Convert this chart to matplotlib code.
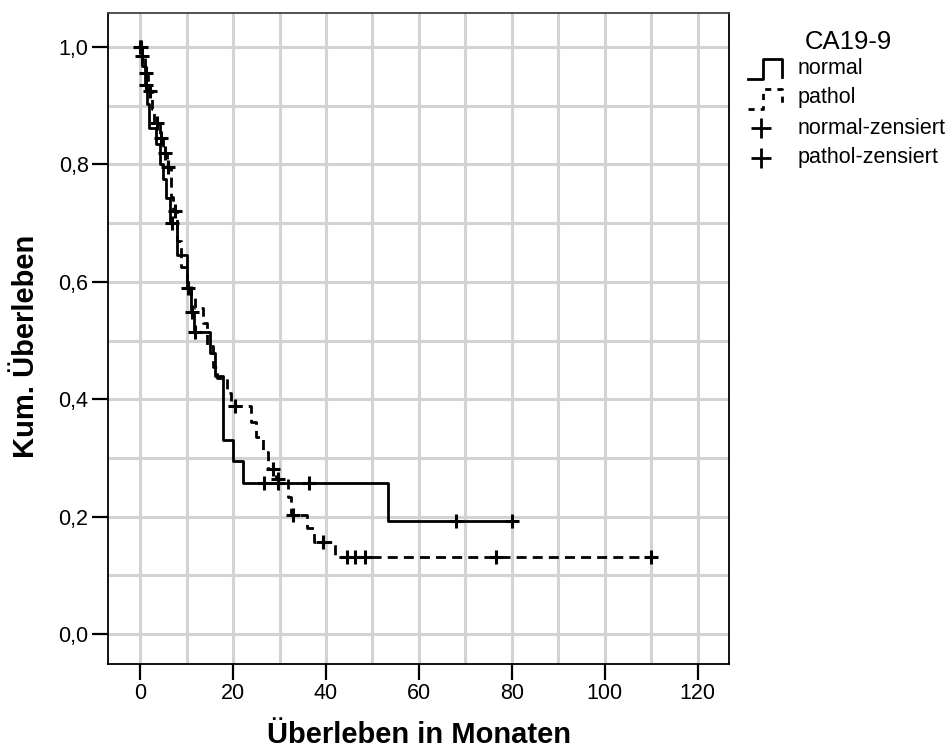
import numpy as np
import matplotlib
matplotlib.use("Agg")
import matplotlib.pyplot as plt

plt.rcParams['font.family'] = ['Liberation Sans', 'DejaVu Sans']

# Kaplan-Meier steps: time of each event step and survival after it
normal_t = [0.5, 1.0, 1.5, 2.0, 3.5, 4.3, 5.0, 5.5, 6.5, 8.0, 10.0, 10.9, 11.6,
            15.0, 16.1, 17.8, 20.0, 22.2, 53.4]
normal_s = [0.968, 0.935, 0.903, 0.862, 0.835, 0.80, 0.775, 0.743, 0.70, 0.645,
            0.59, 0.548, 0.514, 0.478, 0.44, 0.33, 0.294, 0.257, 0.193]
normal_end = 80.0
normal_cens = [0.2, 1.2, 6.9, 10.3, 11.1, 11.8, 26.7, 29.7, 36.3, 68.0, 80.0]

pathol_t = [0.5, 1.0, 1.7, 2.5, 3.0, 4.3, 5.0, 5.8, 6.6, 7.0, 8.0, 8.8, 10.0,
            11.0, 11.8, 13.5, 14.4, 15.7, 16.5, 18.7, 19.5, 23.9, 25.0, 26.5,
            27.5, 29.2, 31.8, 32.5, 36.0, 37.5, 42.0]
pathol_s = [0.985, 0.955, 0.925, 0.895, 0.87, 0.845, 0.82, 0.795, 0.745, 0.72,
            0.67, 0.625, 0.60, 0.575, 0.556, 0.53, 0.49, 0.455, 0.437, 0.41,
            0.388, 0.361, 0.335, 0.31, 0.282, 0.264, 0.233, 0.202, 0.18, 0.157,
            0.131]
pathol_end = 110.0
pathol_cens = [0.0, 0.5, 1.2, 2.2, 3.6, 4.5, 5.4, 6.1, 7.5, 20.4, 28.6, 29.7,
               33.0, 39.4, 44.5, 46.2, 48.4, 76.6, 110.0]

x_ticks = [0, 20, 40, 60, 80, 100, 120]
y_ticks = [0.0, 0.2, 0.4, 0.6, 0.8, 1.0]
y_ticklabels = ['0,0', '0,2', '0,4', '0,6', '0,8', '1,0']
legend_labels = ['normal', 'pathol', 'normal-zensiert', 'pathol-zensiert']


def step_xy(t, s, end):
    xs = [0.0] + list(t) + [end]
    ys = [1.0] + list(s) + [s[-1]]
    return np.array(xs), np.array(ys)


def surv_at(t, s, times):
    t = np.array(t)
    s = np.array(s)
    out = []
    for tm in times:
        idx = np.searchsorted(t, tm, side='right') - 1
        out.append(1.0 if idx < 0 else s[idx])
    return np.array(out)


fig = plt.figure(figsize=(9.48, 7.51), dpi=100)
ax = fig.add_axes([108 / 948, 87 / 751, 621 / 948, 651 / 751])

ax.set_xlim(-6.9, 126.7)
ax.set_ylim(-0.051, 1.058)

# light grid every 10 months / 0.1
for gx in np.arange(0, 130, 10):
    ax.axvline(gx, color='#d3d3d3', lw=2.2, zorder=0)
for gy in np.arange(0, 1.1, 0.1):
    ax.axhline(gy, color='#d3d3d3', lw=2.2, zorder=0)

nx, ny = step_xy(normal_t, normal_s, normal_end)
ax.step(nx, ny, where='post', color='black', lw=2.0, zorder=3)
px, py = step_xy(pathol_t, pathol_s, pathol_end)
ax.step(px, py, where='post', color='black', lw=2.0, dashes=(3.6, 2.2), zorder=3)

ax.plot(normal_cens, surv_at(normal_t, normal_s, normal_cens), ls='none',
        marker='+', ms=10, mew=2.2, color='black', zorder=4)
ax.plot(pathol_cens, surv_at(pathol_t, pathol_s, pathol_cens), ls='none',
        marker='+', ms=10, mew=2.2, color='black', zorder=4)

ax.set_xticks(x_ticks)
ax.set_xticklabels([str(v) for v in x_ticks])
ax.set_yticks(y_ticks)
ax.set_yticklabels(y_ticklabels)
ax.tick_params(direction='out', length=11.5, width=1.6, labelsize=15.5, pad=2.5)
for sp in ax.spines.values():
    sp.set_color('black')
    sp.set_linewidth(1.3)
ax.spines['top'].set_color('#444444')

ax.set_xlabel('Überleben in Monaten', fontsize=21, fontweight='bold')
ax.set_ylabel('Kum. Überleben', fontsize=21, fontweight='bold')
ax.xaxis.set_label_coords(0.5, -0.088)
ax.yaxis.set_label_coords(-0.11, 0.488)

# legend drawn in pixel space to the right of the plot
lg = fig.add_axes([0, 0, 1, 1], facecolor='none')
lg.set_xlim(0, 948)
lg.set_ylim(751, 0)
lg.axis('off')
lg.text(848, 42, 'CA19-9', fontsize=18.5, ha='center', va='center')
lg.plot([748, 763, 763, 782, 782], [79, 79, 59, 59, 77], color='black', lw=2.0)
lg.plot([748, 763, 763, 782, 782], [109, 109, 89, 89, 107], color='black',
        lw=2.0, dashes=(2.2, 2.2))
lg.plot([761], [128], marker='+', ms=15, mew=2.0, color='black')
lg.plot([761], [158], marker='+', ms=15, mew=2.0, color='black')
for yy, txt in zip([68, 98, 128, 158], legend_labels):
    lg.text(798, yy, txt, fontsize=15.5, ha='left', va='center')

fig.savefig('out.png', dpi=100)
